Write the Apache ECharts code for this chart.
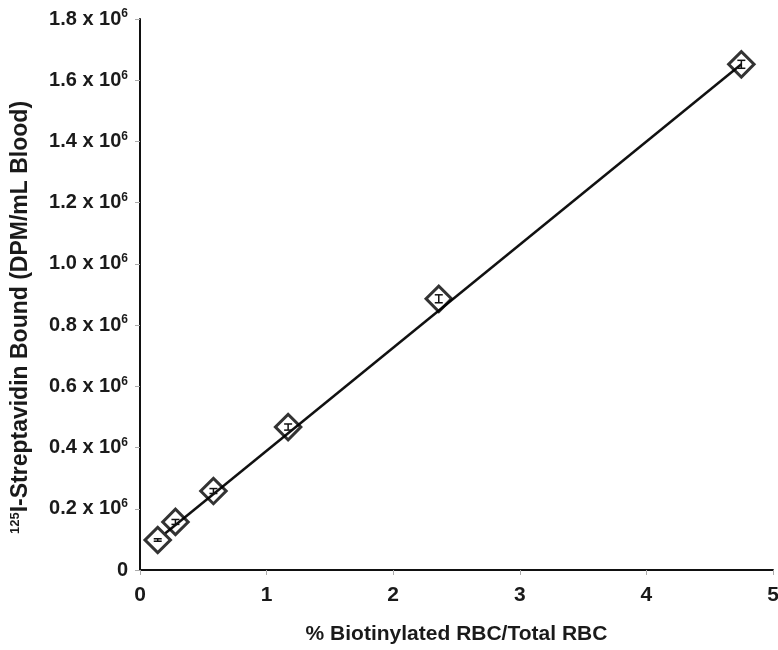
<!DOCTYPE html>
<html>
<head>
<meta charset="utf-8">
<script src="https://cdn.jsdelivr.net/npm/echarts@6/dist/echarts.min.js"></script>
<style>
  html, body { margin: 0; padding: 0; background: #fff; }
  #chart { width: 778px; height: 650px; }
</style>
</head>
<body>
<div id="chart"></div>
<script>
// % biotinylated RBC / total RBC
const pctBiotin = [0.14, 0.28, 0.58, 1.17, 2.36, 4.75];
// 125I-streptavidin bound, DPM/mL blood
const dpmBound = [0.098e6, 0.157e6, 0.258e6, 0.467e6, 0.886e6, 1.652e6];
// SD of each point (small, inside the markers)
const dpmErr = [0.004e6, 0.008e6, 0.008e6, 0.01e6, 0.013e6, 0.013e6];
// linear fit end points
const fitX = [0.2, 4.75];
const fitY = [0.12e6, 1.652e6];
const yTicks = ["0", "0.2", "0.4", "0.6", "0.8", "1.0", "1.2", "1.4", "1.6", "1.8"];

const font = "'Liberation Sans', Arial, sans-serif";
const ink = "#1a1a1a";
const chart = echarts.init(document.getElementById("chart"));

const points = pctBiotin.map((x, i) => [x, dpmBound[i]]);
const errData = pctBiotin.map((x, i) => [x, dpmBound[i] - dpmErr[i], dpmBound[i] + dpmErr[i]]);

const option = {
  animation: false,
  grid: { left: 140, right: 5, top: 19, bottom: 80, containLabel: false, outerBoundsMode: "none" },
  xAxis: {
    type: "value",
    min: 0,
    max: 5,
    interval: 1,
    name: "% Biotinylated RBC/Total RBC",
    nameLocation: "middle",
    nameGap: 54,
    nameTextStyle: { fontFamily: font, fontWeight: "bold", fontSize: 21, color: ink },
    axisLine: { lineStyle: { color: "#111", width: 2 } },
    axisTick: { show: true, length: 5, lineStyle: { color: "#aaa" } },
    axisLabel: { fontFamily: font, fontWeight: "bold", fontSize: 21, color: ink, margin: 15 },
    splitLine: { show: false }
  },
  yAxis: {
    type: "value",
    min: 0,
    max: 1.8e6,
    interval: 0.2e6,
    name: "{sup|125}{n|I-Streptavidin Bound (DPM/mL Blood)}",
    nameLocation: "middle",
    nameGap: 107,
    nameTextStyle: {
      padding: [0, 46, 0, 0],
      rich: {
        n: { fontFamily: font, fontWeight: "bold", fontSize: 23, color: ink },
        sup: { fontFamily: font, fontWeight: "bold", fontSize: 13, color: ink, verticalAlign: "bottom", padding: [0, 0, 11, 0] }
      }
    },
    axisLine: { show: true, lineStyle: { color: "#111", width: 2 } },
    axisTick: { show: true, length: 5, lineStyle: { color: "#aaa" } },
    axisLabel: {
      margin: 12,
      formatter: (v) => {
        const t = yTicks[Math.round(v / 0.2e6)];
        return t === "0" ? "{n|0}" : "{n|" + t + " x 10}{sup|6}";
      },
      rich: {
        n: { fontFamily: font, fontWeight: "bold", fontSize: 20, color: ink },
        sup: { fontFamily: font, fontWeight: "bold", fontSize: 12, color: ink, verticalAlign: "bottom", padding: [0, 0, 10, 0] }
      }
    },
    splitLine: { show: false }
  },
  series: [
    {
      name: "fit",
      type: "line",
      data: fitX.map((x, i) => [x, fitY[i]]),
      symbol: "none",
      lineStyle: { color: "#111", width: 2.5 },
      z: 2
    },
    {
      name: "data",
      type: "scatter",
      data: points,
      symbol: "rect",
      symbolRotate: 45,
      symbolSize: 18,
      itemStyle: { color: "rgba(255,255,255,0)", borderColor: "#000", borderWidth: 3 },
      z: 3
    },
    {
      name: "err",
      type: "custom",
      data: errData,
      z: 4,
      renderItem: (params, api) => {
        const x = api.value(0);
        const lo = api.coord([x, api.value(1)]);
        const hi = api.coord([x, api.value(2)]);
        const w = 4;
        const style = { stroke: "#111", lineWidth: 1.5 };
        return {
          type: "group",
          children: [
            { type: "line", shape: { x1: lo[0], y1: lo[1], x2: hi[0], y2: hi[1] }, style },
            { type: "line", shape: { x1: lo[0] - w, y1: lo[1], x2: lo[0] + w, y2: lo[1] }, style },
            { type: "line", shape: { x1: hi[0] - w, y1: hi[1], x2: hi[0] + w, y2: hi[1] }, style }
          ]
        };
      }
    }
  ]
};

chart.setOption(option);
window.addEventListener("resize", () => chart.resize());
</script>
</body>
</html>
